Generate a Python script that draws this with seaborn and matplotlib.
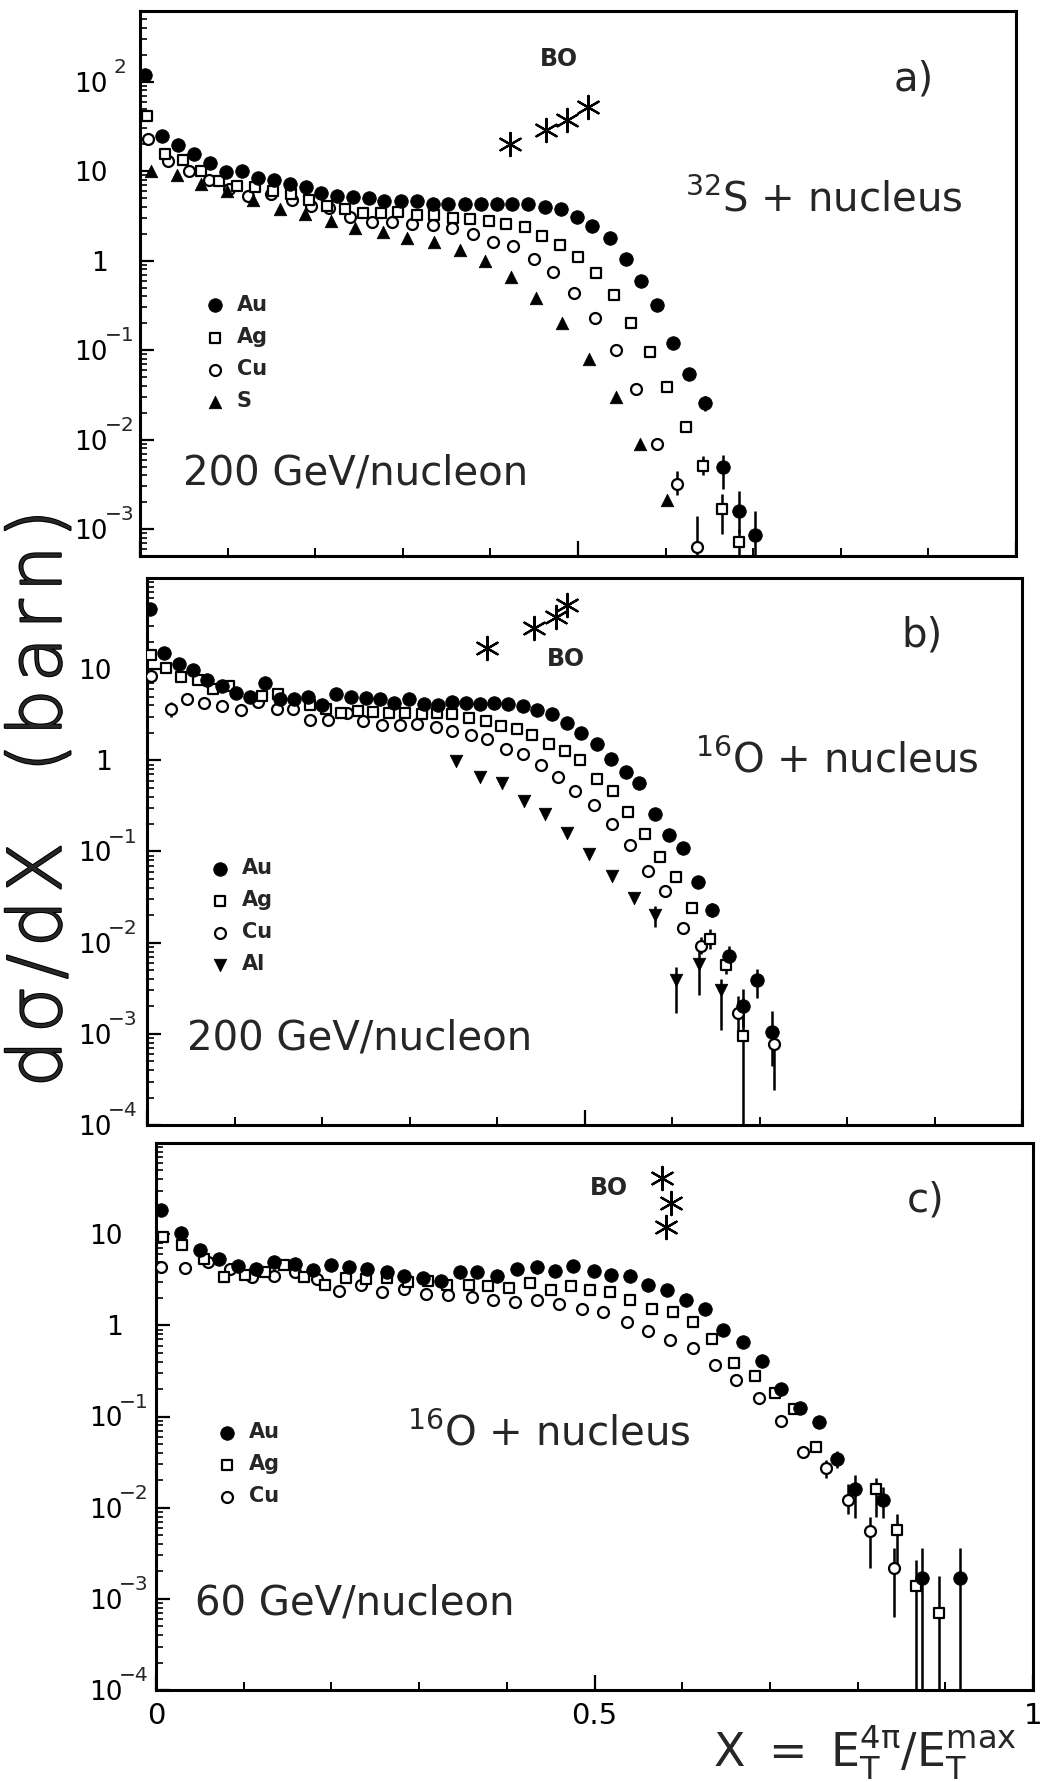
import numpy as np
import pandas as pd
import matplotlib
matplotlib.use("Agg")
import matplotlib.pyplot as plt
import matplotlib.patheffects as pe
import seaborn as sns
from matplotlib.ticker import FixedLocator, FixedFormatter, NullFormatter, LogLocator

# ---------------- data: panel a (32S + nucleus, 200 GeV/nucleon) ----------------
a_au_x = [0.006, 0.025, 0.043, 0.062, 0.080, 0.098, 0.116, 0.135, 0.153, 0.171,
          0.189, 0.207, 0.225, 0.243, 0.261, 0.279, 0.298, 0.316, 0.334, 0.352,
          0.371, 0.389, 0.407, 0.425, 0.443, 0.462, 0.481, 0.499, 0.516, 0.536,
          0.555, 0.572, 0.590, 0.609, 0.627, 0.645, 0.665, 0.684, 0.702]
a_au_y = [120, 25, 19.7, 15.7, 12.5, 9.9, 10, 8.4, 7.9, 7.2,
          6.6, 5.7, 5.3, 5.1, 5.0, 4.6, 4.6, 4.7, 4.3, 4.3,
          4.3, 4.3, 4.3, 4.3, 4.3, 4.0, 3.8, 3.1, 2.45, 1.77,
          1.05, 0.60, 0.32, 0.119, 0.054, 0.0257, 0.0049, 0.0016, 0.00085]
a_ag_x = [0.008, 0.029, 0.049, 0.070, 0.090, 0.111, 0.131, 0.152, 0.172, 0.193,
          0.213, 0.234, 0.254, 0.275, 0.295, 0.316, 0.336, 0.357, 0.377, 0.398,
          0.418, 0.439, 0.459, 0.480, 0.500, 0.520, 0.541, 0.561, 0.582, 0.602,
          0.623, 0.643, 0.664, 0.684]
a_ag_y = [41, 15.6, 13.2, 10, 7.8, 6.8, 6.6, 6.0, 5.5, 4.8,
          4.1, 3.8, 3.4, 3.4, 3.5, 3.2, 3.2, 3.0, 2.9, 2.8,
          2.6, 2.4, 1.9, 1.5, 1.1, 0.72, 0.41, 0.20, 0.096, 0.039,
          0.014, 0.0051, 0.0017, 0.00072]
a_cu_x = [0.009, 0.032, 0.056, 0.079, 0.102, 0.123, 0.149, 0.174, 0.195, 0.216,
          0.240, 0.265, 0.288, 0.311, 0.334, 0.356, 0.380, 0.403, 0.426, 0.450,
          0.472, 0.496, 0.519, 0.543, 0.566, 0.590, 0.613, 0.636]
a_cu_y = [23, 13, 10, 7.9, 6.3, 5.3, 5.5, 4.8, 4.1, 3.9,
          3.1, 2.7, 2.7, 2.6, 2.5, 2.3, 2.0, 1.6, 1.45, 1.05,
          0.74, 0.43, 0.23, 0.10, 0.037, 0.0089, 0.0032, 0.00063]
a_s_x = [0.013, 0.042, 0.070, 0.099, 0.129, 0.160, 0.188, 0.218, 0.246, 0.277,
         0.305, 0.336, 0.365, 0.394, 0.424, 0.452, 0.482, 0.512, 0.543, 0.571, 0.602]
a_s_y = [10.0, 9.1, 7.2, 6.0, 4.8, 3.8, 3.3, 2.8, 2.3, 2.1,
         1.8, 1.6, 1.3, 0.98, 0.66, 0.38, 0.20, 0.079, 0.030, 0.0089, 0.0021]
a_bo_x = [0.422, 0.464, 0.488, 0.511]
a_bo_y = [20, 29, 37, 52]
a_err_x = [0.645, 0.665, 0.684, 0.702, 0.643, 0.664, 0.684, 0.613, 0.636]
a_err_lo = [0.021, 0.0028, 0.0009, 0.0002, 0.0040, 0.00089, 0.0004, 0.0024, 0.0002]
a_err_hi = [0.031, 0.0068, 0.0027, 0.0016, 0.0066, 0.0025, 0.0010, 0.0045, 0.0014]

# ---------------- data: panel b (16O + nucleus, 200 GeV/nucleon) ----------------
b_au_x = [0.003, 0.019, 0.036, 0.052, 0.069, 0.086, 0.102, 0.118, 0.135, 0.152,
          0.168, 0.184, 0.200, 0.216, 0.233, 0.250, 0.266, 0.282, 0.299, 0.316,
          0.332, 0.348, 0.364, 0.381, 0.397, 0.413, 0.430, 0.446, 0.463, 0.480,
          0.496, 0.514, 0.530, 0.547, 0.562, 0.580, 0.596, 0.613, 0.630, 0.646,
          0.665, 0.681, 0.697, 0.714]
b_au_y = [46, 15, 11.5, 9.7, 7.6, 6.6, 5.5, 4.9, 7.1, 4.7,
          4.7, 4.9, 4.0, 5.4, 5.0, 4.8, 4.7, 4.3, 4.7, 4.2,
          4.0, 4.4, 4.3, 4.2, 4.3, 4.2, 3.9, 3.55, 3.2, 2.6,
          2.0, 1.52, 1.03, 0.75, 0.56, 0.26, 0.153, 0.11, 0.046, 0.023,
          0.0071, 0.0020, 0.0039, 0.00105]
b_ag_x = [0.004, 0.022, 0.039, 0.058, 0.075, 0.094, 0.131, 0.150, 0.186, 0.205,
          0.222, 0.241, 0.258, 0.277, 0.295, 0.314, 0.331, 0.349, 0.368, 0.387,
          0.404, 0.423, 0.440, 0.459, 0.478, 0.495, 0.514, 0.533, 0.550, 0.569,
          0.586, 0.605, 0.623, 0.643, 0.662, 0.681]
b_ag_y = [14.4, 10.2, 8.3, 7.6, 6.0, 6.6, 5.1, 5.4, 4.0, 3.7,
          3.3, 3.5, 3.4, 3.3, 3.3, 3.2, 3.3, 3.2, 2.9, 2.7,
          2.4, 2.2, 1.9, 1.5, 1.26, 1.0, 0.63, 0.46, 0.27, 0.155,
          0.086, 0.052, 0.024, 0.011, 0.0057, 0.00095]
b_cu_x = [0.005, 0.027, 0.046, 0.065, 0.086, 0.107, 0.127, 0.148, 0.167, 0.186,
          0.207, 0.228, 0.247, 0.268, 0.289, 0.309, 0.330, 0.349, 0.370, 0.389,
          0.410, 0.430, 0.450, 0.470, 0.489, 0.511, 0.531, 0.552, 0.573, 0.592,
          0.613, 0.633, 0.675, 0.717]
b_cu_y = [8.5, 3.7, 4.7, 4.3, 3.9, 3.6, 4.4, 3.7, 3.7, 2.8,
          2.8, 3.3, 2.7, 2.45, 2.45, 2.5, 2.35, 2.1, 1.9, 1.7,
          1.34, 1.18, 0.89, 0.66, 0.46, 0.32, 0.20, 0.117, 0.061, 0.037,
          0.0145, 0.0093, 0.0017, 0.00078]
b_al_x = [0.353, 0.380, 0.406, 0.431, 0.455, 0.480, 0.505, 0.531, 0.556, 0.580,
          0.605, 0.631, 0.656]
b_al_y = [0.98, 0.66, 0.57, 0.36, 0.26, 0.16, 0.095, 0.054, 0.031, 0.020,
          0.0039, 0.0059, 0.0030]
b_bo_x = [0.389, 0.442, 0.467, 0.480]
b_bo_y = [17, 28, 37, 50]
b_err_x = [0.646, 0.665, 0.681, 0.697, 0.714, 0.643, 0.662, 0.681, 0.027, 0.633,
           0.675, 0.717, 0.580, 0.605, 0.631, 0.656]
b_err_lo = [0.019, 0.0052, 0.0012, 0.0025, 0.00044, 0.0085, 0.0045, 0.00005, 3.0, 0.0075,
            0.0011, 0.00024, 0.015, 0.0017, 0.0027, 0.0011]
b_err_hi = [0.027, 0.0092, 0.0031, 0.0051, 0.0018, 0.014, 0.0072, 0.0025, 4.4, 0.0115,
            0.0026, 0.0011, 0.025, 0.0054, 0.0085, 0.0040]

# ---------------- data: panel c (16O + nucleus, 60 GeV/nucleon) ----------------
c_au_x = [0.006, 0.029, 0.050, 0.072, 0.093, 0.114, 0.135, 0.158, 0.179, 0.200,
          0.220, 0.241, 0.263, 0.283, 0.304, 0.325, 0.347, 0.366, 0.389, 0.412,
          0.435, 0.455, 0.476, 0.499, 0.519, 0.540, 0.561, 0.583, 0.604, 0.626,
          0.647, 0.669, 0.691, 0.713, 0.734, 0.756, 0.776, 0.797, 0.829, 0.873, 0.917]
c_au_y = [18.5, 10.3, 6.7, 5.4, 4.5, 4.2, 5.0, 4.7, 4.0, 4.6,
          4.4, 4.1, 3.8, 3.5, 3.3, 3.1, 3.8, 3.8, 3.5, 4.2,
          4.4, 3.9, 4.5, 3.9, 3.6, 3.5, 2.8, 2.45, 1.9, 1.5,
          0.90, 0.66, 0.41, 0.20, 0.124, 0.087, 0.034, 0.016, 0.012, 0.0017, 0.0017]
c_ag_x = [0.008, 0.030, 0.055, 0.078, 0.101, 0.124, 0.146, 0.169, 0.193, 0.217,
          0.240, 0.263, 0.287, 0.310, 0.332, 0.357, 0.379, 0.402, 0.427, 0.450,
          0.473, 0.495, 0.518, 0.541, 0.566, 0.589, 0.612, 0.634, 0.659, 0.683,
          0.706, 0.728, 0.753, 0.821, 0.845, 0.867, 0.893]
c_ag_y = [9.2, 7.6, 5.4, 3.4, 3.6, 3.8, 4.6, 3.4, 2.8, 3.3,
          3.2, 3.3, 3.0, 3.1, 2.8, 2.8, 2.7, 2.6, 2.9, 2.45,
          2.7, 2.45, 2.35, 1.9, 1.5, 1.4, 1.08, 0.70, 0.39, 0.28,
          0.18, 0.12, 0.046, 0.016, 0.0057, 0.0014, 0.0007]
c_cu_x = [0.006, 0.033, 0.059, 0.084, 0.109, 0.134, 0.159, 0.184, 0.209, 0.234,
          0.258, 0.283, 0.308, 0.333, 0.360, 0.384, 0.409, 0.434, 0.459, 0.486,
          0.510, 0.537, 0.561, 0.586, 0.612, 0.637, 0.661, 0.688, 0.713, 0.738,
          0.764, 0.789, 0.814, 0.841]
c_cu_y = [4.4, 4.3, 5.0, 4.2, 3.4, 3.5, 3.8, 3.2, 2.4, 2.8,
          2.35, 2.5, 2.2, 2.15, 2.05, 1.9, 1.8, 1.9, 1.7, 1.5,
          1.4, 1.1, 0.87, 0.69, 0.56, 0.37, 0.25, 0.16, 0.089, 0.041,
          0.027, 0.012, 0.0056, 0.0022]
c_bo_x = [0.577, 0.587, 0.582]
c_bo_y = [41, 22, 12]
c_err_x = [0.776, 0.797, 0.829, 0.873, 0.917, 0.821, 0.845, 0.867, 0.893, 0.764,
           0.789, 0.814, 0.841]
c_err_lo = [0.027, 0.0078, 0.0078, 0.00005, 0.00005, 0.0079, 0.0022, 0.00005, 0.00005, 0.021,
            0.0085, 0.0022, 0.00064]
c_err_hi = [0.042, 0.023, 0.017, 0.0036, 0.0036, 0.021, 0.0086, 0.0027, 0.0018, 0.033,
            0.018, 0.0079, 0.0036]

# tick labels
x_tick_labels = {0.0: "0", 0.5: "0.5", 1.0: "1"}
a_decades = [2, 1, 0, -1, -2, -3]
bc_decades = [1, 0, -1, -2, -3, -4]

# ---------------- style ----------------
sns.set_theme(style="ticks")
plt.rcParams["font.family"] = ["DejaVu Sans"]
plt.rcParams["mathtext.fontset"] = "dejavusans"
plt.rcParams["axes.edgecolor"] = "black"
plt.rcParams["axes.linewidth"] = 2.2
plt.rcParams["xtick.color"] = "black"
plt.rcParams["ytick.color"] = "black"

W, H = 1040, 1782
fig = plt.figure(figsize=(W / 100, H / 100), dpi=100)
fig.patch.set_facecolor("white")


def rect(l, r, t, b):
    return [l / W, 1 - b / H, (r - l) / W, (b - t) / H]


STYLE = {
    "Au": dict(marker="o", s=95, facecolor="black", edgecolor="black", linewidth=0.6, zorder=6),
    "Ag": dict(marker="s", s=62, facecolor="white", edgecolor="black", linewidth=1.6, zorder=5),
    "Cu": dict(marker="o", s=62, facecolor="white", edgecolor="black", linewidth=1.6, zorder=4),
    "S": dict(marker="^", s=80, facecolor="black", edgecolor="black", linewidth=0.6, zorder=4),
    "Al": dict(marker="v", s=80, facecolor="black", edgecolor="black", linewidth=0.6, zorder=4),
}


def draw_panel(ax, series, bo, err, decades, ylim, pad, legend_xy, texts, show_xlabels):
    ex, elo, ehi = err
    ax.vlines(ex, elo, ehi, colors="black", linewidth=1.8, zorder=2)
    for name, xs, ys in series:
        df = pd.DataFrame({"x": xs, "y": ys})
        st = dict(STYLE[name])
        sns.scatterplot(data=df, x="x", y="y", ax=ax, color="black", label=name,
                        legend=False, **st)
    bdf = pd.DataFrame({"x": bo[0], "y": bo[1]})
    sns.scatterplot(data=bdf, x="x", y="y", ax=ax, marker=(6, 2, 0), s=280,
                    color="black", linewidth=1.6, label="_nolegend_", legend=False, zorder=5)

    ax.set_yscale("log")
    ax.set_xlim(0, 1)
    ax.set_ylim(*ylim)
    ax.set_xlabel("")
    ax.set_ylabel("")
    for sp in ax.spines.values():
        sp.set_visible(True)
        sp.set_linewidth(2.2)
        sp.set_color("black")

    # x ticks
    ax.xaxis.set_major_locator(FixedLocator([0.0, 0.5, 1.0]))
    ax.xaxis.set_minor_locator(FixedLocator(list(np.round(np.arange(0.1, 1.0, 0.1), 2))))
    if show_xlabels:
        ax.xaxis.set_major_formatter(FixedFormatter([x_tick_labels[k] for k in (0.0, 0.5, 1.0)]))
    else:
        ax.xaxis.set_major_formatter(NullFormatter())
    ax.xaxis.set_minor_formatter(NullFormatter())
    ax.tick_params(axis="x", which="major", direction="in", length=11, width=1.6,
                   top=False, bottom=True, labelsize=21, pad=9)
    ax.tick_params(axis="x", which="minor", direction="in", length=6, width=1.4,
                   top=False, bottom=True)

    # y ticks
    ax.yaxis.set_major_locator(FixedLocator([10.0 ** k for k in decades]))
    ax.yaxis.set_major_formatter(FixedFormatter(["1" if k == 0 else "10" for k in decades]))
    ax.yaxis.set_minor_locator(LogLocator(base=10, subs=np.arange(2, 10)))
    ax.yaxis.set_minor_formatter(NullFormatter())
    ax.tick_params(axis="y", which="major", direction="in", length=10, width=1.6,
                   left=True, right=False, labelsize=19, pad=pad)
    ax.tick_params(axis="y", which="minor", direction="in", length=5, width=1.2,
                   left=True, right=False)
    for k in decades:
        if k in (0, 1):
            continue
        txt = str(k).replace("-", "\u2212")
        dx = -pad - 2.5 if k < 0 else -pad + 4
        ax.annotate(txt, xy=(0, 10.0 ** k), xycoords=("axes fraction", "data"),
                    xytext=(dx, 3.5), textcoords="offset points",
                    ha="left", va="bottom", fontsize=14.5, annotation_clip=False)

    # legend
    handles, labels = ax.get_legend_handles_labels()
    order = [n for n, _, _ in series]
    hl = {l: h for h, l in zip(handles, labels)}
    ax.legend([hl[n] for n in order], order, loc="upper left", bbox_to_anchor=legend_xy,
              frameon=False, handlelength=1.0, handletextpad=0.55, labelspacing=0.58,
              borderpad=0, borderaxespad=0, scatterpoints=1,
              prop=dict(family="DejaVu Sans", weight="bold", size=15))

    for (tx, ty, s, kw) in texts:
        ax.text(tx, ty, s, transform=ax.transAxes, **kw)


big = dict(fontsize=29, ha="left", va="center")
bo_kw = dict(fontsize=17, fontweight="bold", family=["Liberation Sans Narrow", "DejaVu Sans"],
             ha="left", va="center")

ax_a = fig.add_axes(rect(140, 1016, 11, 556))
draw_panel(ax_a,
           [("Au", a_au_x, a_au_y), ("Ag", a_ag_x, a_ag_y), ("Cu", a_cu_x, a_cu_y), ("S", a_s_x, a_s_y)],
           (a_bo_x, a_bo_y), (a_err_x, a_err_lo, a_err_hi), a_decades,
           (10 ** -3.30, 10 ** 2.79), 23, (0.0737, 0.479),
           [(0.049, 0.152, "200 GeV/nucleon", big),
            (0.622, 0.653, r"$^{32}$S + nucleus", big),
            (0.860, 0.875, "a)", big),
            (0.457, 0.912, "BO", bo_kw)], False)

ax_b = fig.add_axes(rect(147, 1022, 578, 1125))
draw_panel(ax_b,
           [("Au", b_au_x, b_au_y), ("Ag", b_ag_x, b_ag_y), ("Cu", b_cu_x, b_cu_y), ("Al", b_al_x, b_al_y)],
           (b_bo_x, b_bo_y), (b_err_x, b_err_lo, b_err_hi), bc_decades,
           (1e-4, 1e2), 25.5, (0.0715, 0.488),
           [(0.046, 0.159, "200 GeV/nucleon", big),
            (0.626, 0.665, r"$^{16}$O + nucleus", big),
            (0.862, 0.894, "b)", big),
            (0.457, 0.852, "BO", bo_kw)], False)

ax_c = fig.add_axes(rect(156, 1033, 1143, 1690))
draw_panel(ax_c,
           [("Au", c_au_x, c_au_y), ("Ag", c_ag_x, c_ag_y), ("Cu", c_cu_x, c_cu_y)],
           (c_bo_x, c_bo_y), (c_err_x, c_err_lo, c_err_hi), bc_decades,
           (1e-4, 1e2), 24, (0.069, 0.490),
           [(0.044, 0.159, "60 GeV/nucleon", big),
            (0.286, 0.468, r"$^{16}$O + nucleus", big),
            (0.856, 0.894, "c)", big),
            (0.495, 0.918, "BO", bo_kw)], True)

hs = "\u200a"
ylab = hs.join("d\u03c3/dX") + "   " + hs.join("(barn)")
fig.text(40 / W, 1 - 798 / H, ylab, rotation=90, ha="center", va="center",
         fontsize=53, fontweight=200,
         path_effects=[pe.withStroke(linewidth=1.5, foreground="black")])
fig.text(713 / W, (H - 1767) / H, r"$\mathregular{X\ =\ E_{T}^{4\pi}/E_{T}^{max}}$",
         ha="left", va="baseline", fontsize=33)

fig.savefig("out.png", dpi=100, facecolor="white")
